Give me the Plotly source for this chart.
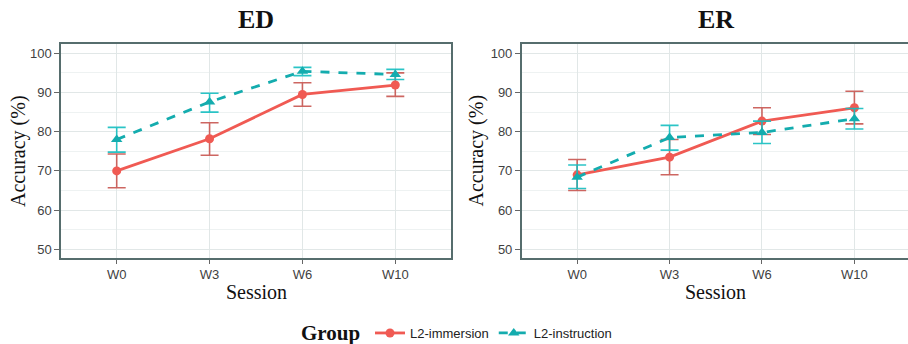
import plotly.graph_objects as go

sessions = ["W0", "W3", "W6", "W10"]
groups = ["L2-immersion", "L2-instruction"]
panels = ["ED", "ER"]

# ED panel
ed_imm = [70.0, 78.2, 89.5, 91.9]
ed_imm_lo = [65.7, 74.0, 86.5, 89.0]
ed_imm_hi = [74.3, 82.3, 92.5, 95.0]
ed_ins = [78.0, 87.6, 95.4, 94.6]
ed_ins_lo = [74.8, 85.0, 94.3, 93.3]
ed_ins_hi = [81.1, 89.8, 96.4, 95.9]

# ER panel
er_imm = [69.0, 73.5, 82.7, 86.1]
er_imm_lo = [65.0, 69.0, 79.3, 82.0]
er_imm_hi = [72.9, 78.0, 86.1, 90.3]
er_ins = [68.4, 78.5, 79.8, 83.3]
er_ins_lo = [65.5, 75.3, 77.0, 80.7]
er_ins_hi = [71.5, 81.6, 82.7, 85.9]

y_ticks = [50, 60, 70, 80, 90, 100]

RED = "#F05A53"
RED_ERR = "rgba(200,85,80,0.9)"
TEAL = "#14ACAE"
TEAL_ERR = "rgba(20,190,192,0.9)"

fig = go.Figure()

def add_group(xa, ya, vals, lo, hi, name, color, ecolor, symbol, dash, msize, showleg):
    fig.add_trace(go.Scatter(
        x=sessions, y=vals, name=name, legendgroup=name, showlegend=showleg,
        mode="lines+markers",
        line=dict(color=color, width=2.8, dash=dash),
        marker=dict(color=color, size=msize, symbol=symbol),
        error_y=dict(type="data", symmetric=False,
                     array=[h - v for h, v in zip(hi, vals)],
                     arrayminus=[v - l for l, v in zip(lo, vals)],
                     color=ecolor, thickness=1.6, width=9),
        xaxis=xa, yaxis=ya,
    ))

add_group("x", "y", ed_imm, ed_imm_lo, ed_imm_hi, groups[0], RED, RED_ERR, "circle", "solid", 9, True)
add_group("x", "y", ed_ins, ed_ins_lo, ed_ins_hi, groups[1], TEAL, TEAL_ERR, "triangle-up", "dash", 10, True)
add_group("x2", "y2", er_imm, er_imm_lo, er_imm_hi, groups[0], RED, RED_ERR, "circle", "solid", 9, False)
add_group("x2", "y2", er_ins, er_ins_lo, er_ins_hi, groups[1], TEAL, TEAL_ERR, "triangle-up", "dash", 10, False)

W, H = 908, 344
top_px, bot_px = 44, 258
ydom = [1 - bot_px / H, 1 - top_px / H]
BORDER = "#566d6d"
GRID = "#e1e7e7"
MINOR = "#eef2f2"
TICKF = dict(family="Liberation Sans, Arial, sans-serif", size=13, color="#3f3f3f")

xcommon = dict(type="category", categoryorder="array", categoryarray=sessions,
               showgrid=True, gridcolor=GRID, gridwidth=1,
               showline=True, linecolor=BORDER, linewidth=1.5,
               ticks="outside", ticklen=4, tickcolor="#666", tickfont=TICKF,
               zeroline=False, fixedrange=True)
ycommon = dict(range=[47.78, 102.37], tickvals=y_ticks,
               showgrid=True, gridcolor=GRID, gridwidth=1,
               minor=dict(tickvals=[55, 65, 75, 85, 95], showgrid=True, gridcolor=MINOR, gridwidth=1),
               showline=True, linecolor=BORDER, linewidth=1.5,
               ticks="outside", ticklen=5, tickcolor="#666", tickfont=TICKF,
               zeroline=False)

fig.update_layout(
    width=W, height=H,
    margin=dict(l=0, r=0, t=0, b=0, autoexpand=False),
    paper_bgcolor="white", plot_bgcolor="white",
    xaxis=dict(domain=[61 / W, 451 / W], range=[-0.6, 3.6], mirror=True, anchor="y", **xcommon),
    yaxis=dict(domain=ydom, mirror=True, anchor="x", **ycommon),
    xaxis2=dict(domain=[521.7 / W, 1.0], range=[-0.6, 3.58], mirror=True, anchor="y2", **xcommon),
    yaxis2=dict(domain=ydom, mirror=False, anchor="x2", **ycommon),
    showlegend=True,
    legend=dict(orientation="h", x=370 / W, xanchor="left", y=1 - 333 / H, yanchor="middle",
                font=dict(family="Liberation Sans, Arial, sans-serif", size=13, color="#222"),
                itemwidth=30, bgcolor="rgba(0,0,0,0)"),
)

SERIF = "Liberation Serif, Times New Roman, serif"
annos = []
for cx, title in [(256, panels[0]), (715.6, panels[1])]:
    annos.append(dict(text=f"<b>{title}</b>", x=cx / W, y=1 - 20 / H, xref="paper", yref="paper",
                      showarrow=False, xanchor="center", yanchor="middle",
                      font=dict(family=SERIF, size=26, color="#111")))
    annos.append(dict(text="Session", x=cx / W, y=1 - 292 / H, xref="paper", yref="paper",
                      showarrow=False, xanchor="center", yanchor="middle",
                      font=dict(family=SERIF, size=20, color="#111")))
for ax in [18, 475.5]:
    annos.append(dict(text="Accuracy (%)", x=ax / W, y=1 - 151 / H, xref="paper", yref="paper",
                      showarrow=False, xanchor="center", yanchor="middle", textangle=-90,
                      font=dict(family=SERIF, size=20, color="#111")))
annos.append(dict(text="<b>Group</b>", x=330.5 / W, y=1 - 333 / H, xref="paper", yref="paper",
                  showarrow=False, xanchor="center", yanchor="middle",
                  font=dict(family=SERIF, size=21, color="#111")))
fig.update_layout(annotations=annos)

fig.write_html("out.html",
               config={"displayModeBar": False},
               post_script="document.body.style.margin='0';document.body.style.padding='0';"
                           "document.body.style.overflow='hidden';"
                           "document.documentElement.style.overflow='hidden';")
